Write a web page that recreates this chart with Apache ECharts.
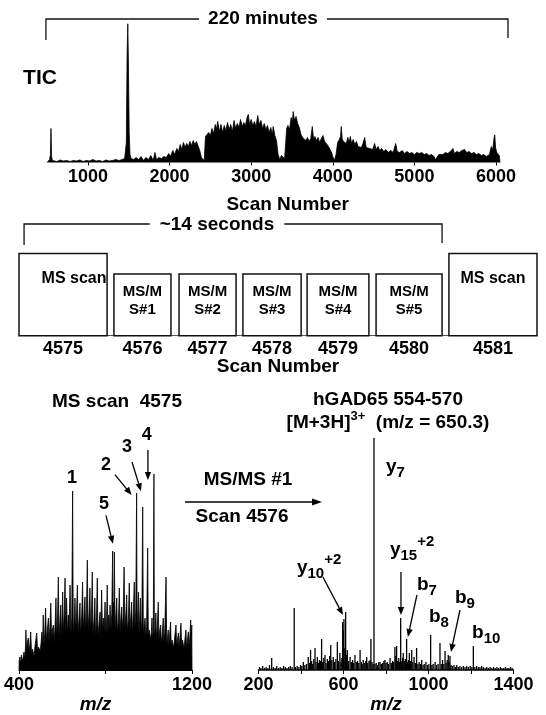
<!DOCTYPE html>
<html><head><meta charset="utf-8">
<script src="https://cdn.jsdelivr.net/npm/echarts@6/dist/echarts.min.js"></script>
<style>html,body{margin:0;padding:0;background:#fff}#c{width:546px;height:715px}</style>
</head><body><div id="c"></div>
<script>
// ---------- DATA ----------
// Total ion chromatogram: [scan number, intensity]
const ticPoints = [[500,0],[515,2],[530,3],[540,8],[547,34],[554,6],[565,2],[580,2],[620,1],[660,2.5],[700,1.5],[740,2],[780,1],[820,2],[860,1.5],[900,2.5],[940,1],[980,2],[1020,1.5],[1060,3],[1100,1.5],[1140,2],[1180,1],[1220,2.5],[1260,1.5],[1300,2],[1340,3],[1380,2],[1420,3],[1450,4],[1470,20],[1480,110],[1488,138.7],[1496,100],[1505,30],[1515,8],[1530,4],[1560,3],[1590,5],[1620,3],[1650,6],[1680,2],[1710,5],[1740,3],[1770,7],[1800,2],[1821,10],[1840,3],[1870,5],[1900,4],[1930,6],[1960,5],[1990,9],[2010,6],[2040,12],[2060,8],[2090,14],[2110,11],[2130,18],[2150,13],[2170,20],[2190,15],[2210,19],[2230,16],[2250,21],[2270,17],[2290,22],[2310,18],[2330,21],[2350,19],[2370,12],[2390,5],[2410,3],[2425,2],[2440,26],[2460,24],[2480,30],[2500,27],[2520,34],[2540,29],[2560,38],[2575,33],[2590,41],[2610,31],[2630,38],[2650,30],[2670,37],[2690,32],[2710,40],[2730,33],[2750,38],[2770,31],[2790,42],[2810,34],[2830,39],[2850,35],[2870,43],[2890,36],[2910,40],[2930,37],[2950,45],[2965,48],[2980,38],[3000,43],[3020,37],[3040,41],[3060,36],[3080,47],[3100,38],[3120,42],[3140,34],[3160,39],[3180,33],[3200,37],[3220,30],[3240,35],[3260,28],[3270,36],[3290,27],[3310,22],[3330,8],[3350,3],[3370,7],[3390,9],[3410,4],[3425,3],[3435,34],[3450,37],[3470,33],[3490,45],[3505,40],[3515,51],[3530,42],[3550,46],[3570,39],[3590,35],[3610,28],[3630,25],[3650,27],[3670,22],[3690,25],[3710,21],[3730,24],[3749,36],[3765,23],[3780,26],[3800,22],[3820,25],[3840,20],[3860,24],[3880,27],[3900,21],[3920,23],[3940,17],[3960,16],[3980,11],[4000,6],[4020,2],[4040,8],[4060,20],[4080,23],[4095,26],[4104,36],[4115,24],[4130,21],[4145,23],[4165,19],[4185,25],[4200,20],[4215,26],[4230,19],[4250,23],[4270,18],[4290,21],[4310,16],[4330,18],[4350,15],[4370,19],[4391,25],[4410,15],[4430,17],[4452,14],[4470,16],[4490,13],[4513,19],[4530,13],[4555,16],[4575,12],[4600,14],[4625,11],[4650,13],[4680,10],[4710,12],[4740,10],[4771,19],[4790,11],[4820,10],[4850,12],[4880,9],[4910,11],[4940,9],[4970,10],[5000,8],[5030,10],[5060,9],[5090,10],[5120,8],[5150,9],[5180,7],[5210,8],[5240,6],[5260,3],[5280,2],[5300,8],[5320,9],[5350,8],[5380,10],[5410,9],[5440,11],[5460,10],[5473,14],[5490,9],[5520,11],[5550,10],[5580,12],[5600,10],[5616,13],[5640,10],[5670,11],[5700,9],[5730,10],[5760,8],[5790,9],[5820,7],[5850,8],[5880,6],[5900,5],[5920,8],[5943,16],[5960,12],[5975,24],[5985,27.7],[5995,15],[6010,10],[6025,8],[6040,7],[6050,0]];
const ticTickValues = [1000,2000,3000,4000,5000,6000];
const runSpanScans = [485, 6147];          // "220 minutes"

// Scan cycle (seconds)
const scanNumbers = ['4575','4576','4577','4578','4579','4580','4581'];
const scanTypes = ['MS scan','MS/M\nS#1','MS/M\nS#2','MS/M\nS#3','MS/M\nS#4','MS/M\nS#5','MS scan'];
const boxStart = [-0.17,3.01,5.19,7.33,9.48,11.79,14.23];
const boxEnd   = [2.78,4.92,7.10,9.28,11.55,14.0,17.18];
const boxHeight = [100,75,75,75,75,75,100];
const cycleSpan = [0, 14];                 // "~14 seconds"

// MS scan 4575: [m/z, intensity]
const msPoints = [[400,0],[401,9],[404,13],[407,6],[411,15],[415,9],[419,12],[423,18],[427,11],[430,24],[432,40],[435,20],[439,28],[443,32],[447,18],[451,27],[454,38],[458,17],[462,21],[466,22],[470,14],[474,24],[478,30],[482,37],[486,18],[490,23],[494,25],[498,19],[502,27],[506,38],[509,24],[512,55],[515,26],[519,36],[523,62],[527,28],[531,40],[536,52],[539,27],[543,44],[547,67],[551,30],[555,41],[559,45],[563,28],[567,46],[571,72],[574,33],[578,50],[582,93],[585,34],[589,48],[593,65],[596,32],[599,52],[602,78],[605,36],[609,55],[613,92],[616,34],[620,72],[624,36],[628,55],[632,40],[636,85],[640,37],[644,52],[648,179],[651,34],[655,50],[659,72],[662,38],[666,56],[670,85],[673,36],[678,52],[682,67],[685,35],[690,54],[694,88],[697,40],[701,55],[705,73],[708,37],[712,60],[716,110],[719,40],[724,57],[728,82],[731,38],[735,55],[739,98],[742,36],[747,50],[751,72],[754,33],[758,48],[762,92],[765,35],[770,46],[775,58],[778,30],[782,80],[786,38],[790,52],[794,40],[798,68],[801,35],[805,50],[808,85],[811,36],[815,55],[818,38],[821,65],[825,40],[829,57],[833,119],[835,62],[837,68],[839,55],[841,118],[844,40],[848,55],[852,72],[855,38],[860,50],[864,82],[867,37],[871,52],[875,63],[878,38],[882,55],[886,103],[889,40],[894,56],[898,75],[901,38],[906,52],[910,87],[913,40],[917,53],[921,68],[924,37],[929,58],[933,88],[936,42],[940,60],[944,177],[946,45],[949,55],[952,78],[955,38],[958,50],[961,72],[965,40],[968,48],[972,163],[975,36],[979,45],[983,52],[986,32],[990,42],[995,122],[998,33],[1002,40],[1006,40],[1009,30],[1012,38],[1015,52],[1018,32],[1021,38],[1024,196],[1026,35],[1030,42],[1033,57],[1036,30],[1040,44],[1044,68],[1047,30],[1051,40],[1055,45],[1058,27],[1062,35],[1067,52],[1070,28],[1074,38],[1080,93],[1083,26],[1087,33],[1090,40],[1093,25],[1097,36],[1101,48],[1104,24],[1108,30],[1113,32],[1116,22],[1120,33],[1126,45],[1129,24],[1133,30],[1137,37],[1140,22],[1144,32],[1149,47],[1152,23],[1156,30],[1160,32],[1163,22],[1167,30],[1172,40],[1175,22],[1179,30],[1183,38],[1186,24],[1190,33],[1194,50],[1196,30],[1199,45],[1200,0]];
const msTickLabels = [400, 1200];
const msPeakNames = ['1','2','3','4','5'];
const msPeakMz = [648, 944, 972, 1024, 833];

// MS/MS scan 4576: [m/z, intensity]
const ms2Points = [[205,3],[212,2],[220,4],[228,2],[236,3],[244,2],[252,5],[262,12],[270,3],[278,2],[286,4],[294,2],[302,3],[310,2],[318,4],[326,3],[334,2],[342,3],[350,4],[358,3],[368,62],[374,3],[382,4],[390,3],[398,5],[404,4],[411,8],[418,5],[426,6],[434,13],[440,7],[445,20],[450,9],[455,6],[460,11],[466,22],[471,8],[477,13],[482,7],[487,10],[492,9],[497,31],[502,8],[507,12],[513,15],[518,7],[524,11],[530,9],[535,14],[540,25],[545,10],[552,13],[558,8],[564,11],[571,28],[577,9],[583,17],[588,8],[592,12],[596,48],[599,40],[602,51],[606,22],[610,58],[614,15],[618,20],[624,9],[631,13],[637,8],[643,10],[648,7],[654,15],[660,8],[666,9],[672,7],[678,20],[684,8],[688,6],[693,10],[700,7],[705,9],[709,13],[714,7],[720,9],[725,10],[729,31],[734,8],[739,6],[743.5,232],[748,6],[754,7],[760,5],[766,8],[772,8],[778,6],[784,7],[790,9],[795,10],[800,7],[806,8],[812,6],[819,12],[825,7],[831,9],[836,8],[842,23],[846,14],[850,24],[855,9],[860,12],[864,8],[869,52],[874,9],[878,12],[881,17],[886,9],[891,11],[897,31],[902,8],[906,10],[910,17],[915,9],[921,20],[926,8],[932,13],[938,7],[944,22],[950,6],[956,8],[962,6],[968,10],[974,5],[980,6],[988,8],[995,5],[1002,6],[1010,35],[1016,5],[1022,6],[1031,8],[1038,5],[1045,6],[1054,27],[1060,6],[1066,10],[1072,6],[1078,19],[1083,7],[1088,10],[1093,15],[1097,8],[1101,14],[1106,5],[1112,4],[1120,5],[1127,3],[1133,5],[1140,3],[1148,4],[1156,3],[1164,4],[1172,3],[1180,4],[1188,3],[1196,4],[1204,3],[1211,24],[1218,3],[1226,4],[1234,3],[1242,3],[1250,4],[1258,3],[1266,2],[1274,3],[1282,2],[1290,3],[1298,2],[1306,3],[1314,2],[1322,3],[1330,2],[1338,3],[1346,2],[1354,2],[1362,3],[1370,2],[1378,2],[1386,3],[1394,2]];
const ms2TickLabels = [200, 600, 1000, 1400];
const ms2IonType = ['y','y','y','b','b','b','b'];
const ms2IonSub  = ['7','10','15','7','8','9','10'];
const ms2IonSup  = ['','+2','+2','','','',''];
const ms2IonMz   = [743.5, 610, 869, 897, 1010, 1101, 1211];

// ---------- LAYOUT / STYLE ----------
const FONT = '"Liberation Sans", Arial, Helvetica, sans-serif';
const fontStr = (s, it) => (it ? 'italic ' : '') + 'bold ' + s + 'px ' + FONT;
const plain = v => String(v);
const lblStyle = {color:'#000', fontFamily:FONT, fontWeight:'bold', fontSize:18, formatter:plain};
const nameStyle = {color:'#000', fontFamily:FONT, fontWeight:'bold', fontSize:19};

const chart = echarts.init(document.getElementById('c'), null, {width:546, height:715});

const boxData = boxStart.map((s, i) => [s, boxEnd[i], boxHeight[i]]);
const boxTextShift = [11, 0, 0, 0, 0, 0, 0];

chart.setOption({
  animation:false,
  backgroundColor:'#fff',
  grid:[
    {left:39, right:33.7, top:22.5, height:140, outerBoundsMode:'none'},
    {left:19, right:9, top:253.5, height:82.2, outerBoundsMode:'none'},
    {left:19, right:354, top:470, height:200, outerBoundsMode:'none'},
    {left:258.5, right:32.5, top:435, height:235, outerBoundsMode:'none'}
  ],
  xAxis:[
    {gridIndex:0, type:'value', min:400, max:6200, splitLine:{show:false}, axisLine:{show:false},
     axisTick:{show:true, customValues:ticTickValues, length:3, lineStyle:{color:'#000'}},
     axisLabel:Object.assign({customValues:ticTickValues, margin:6}, lblStyle),
     name:'Scan Number', nameLocation:'middle', nameGap:33,
     nameTextStyle:Object.assign({padding:[0,0,0,24]}, nameStyle)},
    {gridIndex:1, type:'value', min:-0.17, max:17.18, splitLine:{show:false},
     axisLine:{show:true, lineStyle:{color:'#555', width:1}}, axisTick:{show:false}, axisLabel:{show:false},
     name:'Scan Number', nameLocation:'middle', nameGap:22, nameTextStyle:nameStyle},
    {gridIndex:2, type:'value', min:400, max:1200, interval:400, splitLine:{show:false},
     axisLine:{show:true, lineStyle:{color:'#000', width:1.2}},
     axisTick:{show:true, length:4, lineStyle:{color:'#000'}},
     axisLabel:Object.assign({customValues:msTickLabels, margin:6}, lblStyle),
     name:'m/z', nameLocation:'middle', nameGap:23,
     nameTextStyle:Object.assign({fontStyle:'italic', padding:[0,20,0,0]}, nameStyle)},
    {gridIndex:3, type:'value', min:200, max:1400, interval:200, splitLine:{show:false},
     axisLine:{show:true, lineStyle:{color:'#000', width:1.5}},
     axisTick:{show:true, length:4, lineStyle:{color:'#000'}},
     axisLabel:Object.assign({customValues:ms2TickLabels, margin:6}, lblStyle),
     name:'m/z', nameLocation:'middle', nameGap:25,
     nameTextStyle:Object.assign({fontStyle:'italic'}, nameStyle)}
  ],
  yAxis:[
    {gridIndex:0, type:'value', min:0, max:140, show:false},
    {gridIndex:1, type:'value', min:0, max:100, show:false},
    {gridIndex:2, type:'value', min:0, max:200, show:false},
    {gridIndex:3, type:'value', min:0, max:235, show:false}
  ],
  series:[
    {type:'line', xAxisIndex:0, yAxisIndex:0, data:ticPoints, symbol:'none', silent:true,
     lineStyle:{color:'#000', width:0.8}, areaStyle:{color:'#000', opacity:1}},
    {type:'custom', xAxisIndex:1, yAxisIndex:1, data:boxData, clip:false, silent:true,
     renderItem:function(params, api){
       const i = params.dataIndex;
       const a = api.coord([api.value(0), 0]);
       const b = api.coord([api.value(1), api.value(2)]);
       const x0 = a[0], x1 = b[0], yb = a[1], yt = b[1];
       const cx = (x0 + x1) / 2;
       const kids = [{type:'rect', shape:{x:x0, y:yt, width:x1-x0, height:yb-yt},
                      style:{fill:'#fff', stroke:'#111', lineWidth:1.5}}];
       const lines = scanTypes[i].split('\n');
       if (lines.length === 1) {
         kids.push({type:'text', x:cx + boxTextShift[i], y:yt + 25,
           style:{text:lines[0], font:fontStr(16), fill:'#000', align:'center', verticalAlign:'middle'}});
       } else {
         lines.forEach((ln, k) => kids.push({type:'text', x:cx, y:yt + 18 + k*18,
           style:{text:ln, font:fontStr(15), fill:'#000', align:'center', verticalAlign:'middle'}}));
       }
       kids.push({type:'text', x:cx, y:yb + 13,
         style:{text:scanNumbers[i], font:fontStr(18), fill:'#000', align:'center', verticalAlign:'middle'}});
       return {type:'group', children:kids};
     }},
    {type:'line', xAxisIndex:2, yAxisIndex:2, data:msPoints, symbol:'none', silent:true,
     lineStyle:{color:'#000', width:0.8}, areaStyle:{color:'#000', opacity:1}},
    {type:'bar', xAxisIndex:3, yAxisIndex:3, data:ms2Points, barWidth:1.3, silent:true,
     itemStyle:{color:'#000'}}
  ]
});

// ---------- ANNOTATIONS ----------
const mctx = document.createElement('canvas').getContext('2d');
function tw(t, s, it){ mctx.font = fontStr(s, it); return mctx.measureText(t).width; }
function txt(t, x, y, s, opt){
  opt = opt || {};
  const st = {text:t, font:fontStr(s, opt.italic), fill:'#000', align:opt.align || 'center', verticalAlign:'middle'};
  if (opt.bg) { st.backgroundColor = '#fff'; st.padding = opt.pad || [0, 8]; }
  return {type:'text', x:x, y:y, z:20, silent:true, style:st};
}
function seq(parts, x, y, align){
  const total = parts.reduce((a, p) => a + tw(p.t, p.s), 0);
  let cx = align === 'center' ? x - total/2 : x;
  return parts.map(p => { const e = txt(p.t, cx, y + (p.dy || 0), p.s, {align:'left'}); cx += tw(p.t, p.s); return e; });
}
function arrow(x1, y1, x2, y2, head, w){
  head = head || 8; w = w || 3.2;
  const ang = Math.atan2(y2 - y1, x2 - x1), c = Math.cos(ang), s = Math.sin(ang);
  const bx = x2 - head*c, by = y2 - head*s;
  return [
    {type:'line', z:15, silent:true, shape:{x1:x1, y1:y1, x2:bx, y2:by}, style:{stroke:'#000', lineWidth:1.3}},
    {type:'polygon', z:15, silent:true, shape:{points:[[x2, y2],[bx + w*s, by - w*c],[bx - w*s, by + w*c]]}, style:{fill:'#000'}}
  ];
}
const P = (g, x, y) => chart.convertToPixel({gridIndex:g}, [x, y]);
const G = [];

// top: TIC + 220 minutes bracket
G.push(txt('TIC', 40, 78, 21));
{
  const l = P(0, runSpanScans[0], 0)[0], r = P(0, runSpanScans[1], 0)[0];
  G.push({type:'polyline', z:5, silent:true, shape:{points:[[l,40],[l,19],[r,19],[r,38]]}, style:{stroke:'#111', lineWidth:1.3, fill:null}});
  G.push(txt('220 minutes', 263, 19, 19, {bg:true, pad:[1, 9]}));
}
// middle: ~14 seconds bracket
{
  const l = P(1, cycleSpan[0], 0)[0], r = P(1, cycleSpan[1], 0)[0];
  G.push({type:'polyline', z:5, silent:true, shape:{points:[[l,245],[l,224],[r,224],[r,243]]}, style:{stroke:'#111', lineWidth:1.3, fill:null}});
  G.push(txt('~14 seconds', 217, 225, 19, {bg:true, pad:[1, 10]}));
}
// spectrum titles
G.push(txt('MS scan  4575', 117, 402, 19));
G.push(txt('hGAD65 554-570', 388, 400, 19));
G.push(...seq([{t:'[M+3H]', s:19},{t:'3+', s:13, dy:-7},{t:'  (m/z = 650.3)', s:19}], 388, 423, 'center'));
// MS/MS #1 arrow
G.push(txt('MS/MS #1', 248, 480, 19));
G.push(...arrow(185, 502, 322, 502, 10, 3.5));
G.push(txt('Scan 4576', 242, 517, 19));

// MS peak numbers
const msLayout = {
  '1': {t:[-0.7,-12.7]},
  '2': {t:[-30.7,-28.3], f:[-21.7,-18.3], to:[-5,2]},
  '3': {t:[-15.7,-60], f:[-10.7,-45], to:[-1.7,-15.7]},
  '4': {t:[-7.3,-39], f:[-6,-24], to:[-6,6]},
  '5': {t:[-8.7,-47], f:[-6.7,-35.7], to:[0.3,-7.3]}
};
msPeakNames.forEach((nm, i) => {
  const pt = msPoints.find(p => p[0] === msPeakMz[i]);
  const c = P(2, pt[0], pt[1]);
  const L = msLayout[nm];
  G.push(txt(nm, c[0] + L.t[0], c[1] + L.t[1], 18));
  if (L.f) G.push(...arrow(c[0] + L.f[0], c[1] + L.f[1], c[0] + L.to[0], c[1] + L.to[1]));
});

// MS/MS fragment ions
const ms2Layout = [
  {t:[12,29]},
  {t:[-48.7,-44], f:[-22.7,-35], to:[-2.7,3]},
  {t:[-10.7,-68], f:[0.3,-46], to:[0.3,-3]},
  {t:[10.3,-54], f:[10.3,-44], to:[1.3,-2]},
  {t:[-1.7,-18]},
  {t:[5,-58], f:[10,-46], to:[1,-4]},
  {t:[-1.3,-13]}
];
ms2IonMz.forEach((mz, i) => {
  const pt = ms2Points.find(p => p[0] === mz);
  const c = P(3, pt[0], pt[1]);
  const L = ms2Layout[i];
  const parts = [{t:ms2IonType[i], s:19},{t:ms2IonSub[i], s:15, dy:6}];
  if (ms2IonSup[i]) parts.push({t:ms2IonSup[i], s:15, dy:-8});
  G.push(...seq(parts, c[0] + L.t[0], c[1] + L.t[1], 'left'));
  if (L.f) G.push(...arrow(c[0] + L.f[0], c[1] + L.f[1], c[0] + L.to[0], c[1] + L.to[1]));
});

chart.setOption({graphic:G});
</script>
</body></html>
